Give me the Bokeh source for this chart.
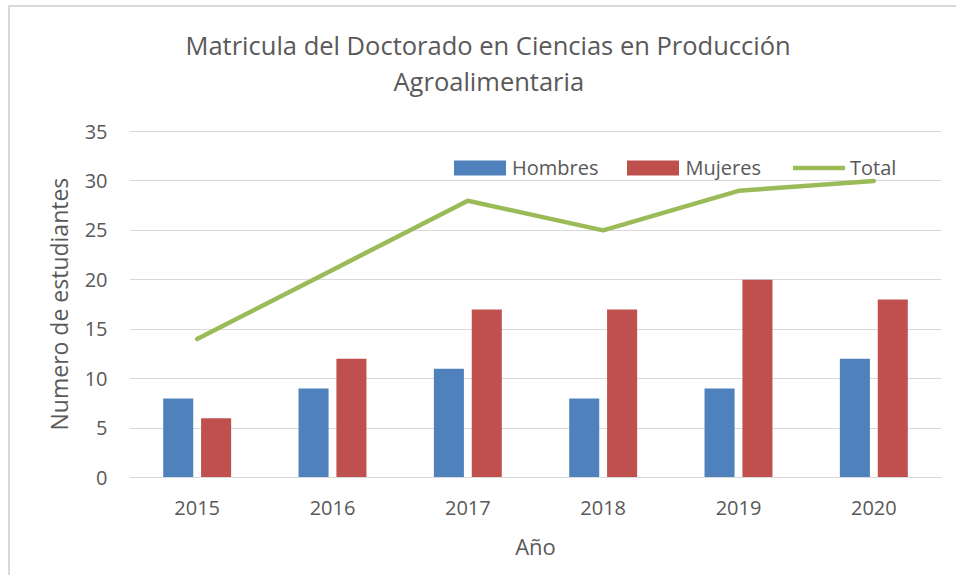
from bokeh.plotting import figure
from bokeh.models import (FactorRange, Range1d, Legend, LegendItem, Title, ColumnDataSource,
                          SingleIntervalTicker)
from bokeh.transform import dodge
from bokeh.embed import file_html
from bokeh.resources import INLINE

years = ["2015", "2016", "2017", "2018", "2019", "2020"]
hombres = [8, 9, 11, 8, 9, 12]
mujeres = [6, 12, 17, 17, 20, 18]
total = [14, 21, 28, 25, 29, 30]

title_line1 = "Matricula del Doctorado en Ciencias en Producción"
title_line2 = "Agroalimentaria"
y_label = "Numero de estudiantes"
x_label = "Año"

FONT = "Open Sans"
GRAY = "#595959"

# value axis shows 0..35; extra headroom above the last gridline (no tick there)
Y_MAX_TICK = 35
Y_TOP = Y_MAX_TICK * 380 / 346

src = ColumnDataSource(dict(year=years, hombres=hombres, mujeres=mujeres, total=total))

p = figure(x_range=FactorRange(*years), y_range=Range1d(0, Y_TOP),
           width=948, height=570, output_backend="svg", toolbar_location=None,
           min_border_left=119, min_border_right=17, min_border_top=90, min_border_bottom=100,
           title=title_line1)
p.styles = {"border-left": "2px solid #d9d9d9", "border-top": "2px solid #d9d9d9",
            "margin-left": "8px", "margin-top": "5px"}

p.title.align = "left"
p.title.text_font = FONT
p.title.text_font_size = "25.5px"
p.title.text_font_style = "normal"
p.title.text_color = GRAY
p.title.offset = 56
p.title.standoff = 0

t2 = Title(text=title_line2, align="left", text_font=FONT, text_font_size="25.5px",
           text_font_style="normal", text_color=GRAY, offset=264, standoff=0)
p.add_layout(t2, "above")

r1 = p.vbar(x=dodge("year", -0.14, range=p.x_range), top="hombres", width=0.222,
            source=src, fill_color="#4F81BD", line_color=None)
r2 = p.vbar(x=dodge("year", 0.14, range=p.x_range), top="mujeres", width=0.222,
            source=src, fill_color="#C0504D", line_color=None)
r3 = p.line(x="year", y="total", source=src, line_color="#9BBB59", line_width=4.5,
            line_cap="round", line_join="round")

common = dict(orientation="horizontal", padding=0, margin=0,
              label_text_font=FONT, label_text_font_size="20px", label_text_color=GRAY,
              background_fill_alpha=0, border_line_alpha=0)
legend_bars = Legend(items=[LegendItem(label="Hombres", renderers=[r1]),
                            LegendItem(label="Mujeres", renderers=[r2])],
                     location=(318, 296), spacing=22, label_standoff=0,
                     glyph_width=65, glyph_height=19, **common)
legend_line = Legend(items=[LegendItem(label="Total", renderers=[r3])],
                     location=(664, 296), label_standoff=5,
                     glyph_width=52, glyph_height=19, **common)
p.add_layout(legend_bars)
p.add_layout(legend_line)

p.outline_line_color = None
p.xgrid.grid_line_color = None
p.ygrid.grid_line_color = "#d9d9d9"
p.ygrid.grid_line_width = 1

p.yaxis.ticker = SingleIntervalTicker(interval=5)
p.yaxis.axis_line_color = None
p.yaxis.major_tick_line_color = None
p.yaxis.minor_tick_line_color = None
p.yaxis.major_label_text_font = FONT
p.yaxis.major_label_text_font_size = "20px"
p.yaxis.major_label_text_color = GRAY
p.yaxis.major_label_standoff = 16

# y-axis title, anchored from the bottom of the plot area
ytitle = Title(text=y_label, align="left", offset=47, standoff=14, text_font=FONT,
               text_font_size="23px", text_font_style="normal", text_color=GRAY)
p.add_layout(ytitle, "left")

xax = p.below[0]
xax.axis_line_color = "#d9d9d9"
xax.axis_line_width = 1
xax.major_tick_line_color = None
xax.minor_tick_line_color = None
xax.major_label_text_font = FONT
xax.major_label_text_font_size = "20px"
xax.major_label_text_color = GRAY
xax.major_label_standoff = 17
xax.axis_label = x_label
xax.axis_label_text_font = FONT
xax.axis_label_text_font_size = "22px"
xax.axis_label_text_font_style = "normal"
xax.axis_label_text_color = GRAY
xax.axis_label_standoff = 13

open("out.html", "w").write(file_html(p, INLINE))
